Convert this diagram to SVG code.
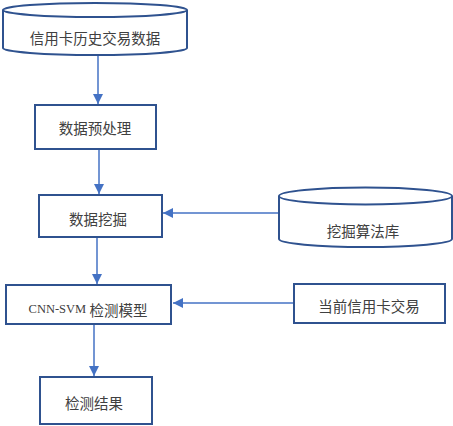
<svg xmlns="http://www.w3.org/2000/svg" width="453" height="426" viewBox="0 0 453 426">
<style>
.box{fill:#fff;stroke:#2F528F;stroke-width:2}
.cyl{fill:#fff;stroke:#2F528F;stroke-width:2}
.lbl{font-family:"Noto Sans CJK SC","Noto Sans",sans-serif;font-size:14.5px;fill:#404040;text-anchor:middle;dominant-baseline:central}
.lat{font-family:"Liberation Serif",serif;font-size:12.5px}
.con{stroke:#4472C4;stroke-width:1.5;fill:none}
</style>
<defs>
<marker id="ah" viewBox="0 0 10 10" refX="10" refY="5" markerWidth="10" markerHeight="10" markerUnits="userSpaceOnUse" orient="auto">
<path d="M0,0 L10,5 L0,10 Z" fill="#4472C4"/>
</marker>
</defs>
<rect width="453" height="426" fill="#fff"/>
<g id="connectors">
<line class="con" x1="98" y1="56" x2="98" y2="104" marker-end="url(#ah)"/>
<line class="con" x1="99" y1="150" x2="99" y2="194" marker-end="url(#ah)"/>
<line class="con" x1="279" y1="213" x2="163" y2="213" marker-end="url(#ah)"/>
<line class="con" x1="97" y1="238" x2="97" y2="284" marker-end="url(#ah)"/>
<line class="con" x1="293" y1="303" x2="173" y2="303" marker-end="url(#ah)"/>
<line class="con" x1="94" y1="325" x2="94" y2="376" marker-end="url(#ah)"/>
</g>
<g id="n1">
<path class="cyl" d="M3,10 L3,48 A92,7 0 0 0 187,48 L187,10"/>
<ellipse class="cyl" cx="95" cy="10" rx="92" ry="7"/>
<text class="lbl" x="95" y="37">信用卡历史交易数据</text>
</g>
<g id="n2">
<rect class="box" x="35" y="105" width="121" height="44"/>
<text class="lbl" x="95" y="127">数据预处理</text>
</g>
<g id="n3">
<rect class="box" x="39" y="195" width="123" height="42"/>
<text class="lbl" x="98" y="218">数据挖掘</text>
</g>
<g id="n4">
<path class="cyl" d="M279,196 L279,239 A86.5,8 0 0 0 452,239 L452,196"/>
<ellipse class="cyl" cx="365.5" cy="196" rx="86.5" ry="8.5"/>
<text class="lbl" x="363" y="230">挖掘算法库</text>
</g>
<g id="n5">
<rect class="box" x="6" y="285" width="165" height="39"/>
<text class="lbl" x="88" y="309"><tspan class="lat">CNN-SVM</tspan> 检测模型</text>
</g>
<g id="n6">
<rect class="box" x="294" y="284" width="151" height="39"/>
<text class="lbl" x="369" y="305">当前信用卡交易</text>
</g>
<g id="n7">
<rect class="box" x="40" y="377" width="112" height="47"/>
<text class="lbl" x="94" y="402">检测结果</text>
</g>
</svg>
